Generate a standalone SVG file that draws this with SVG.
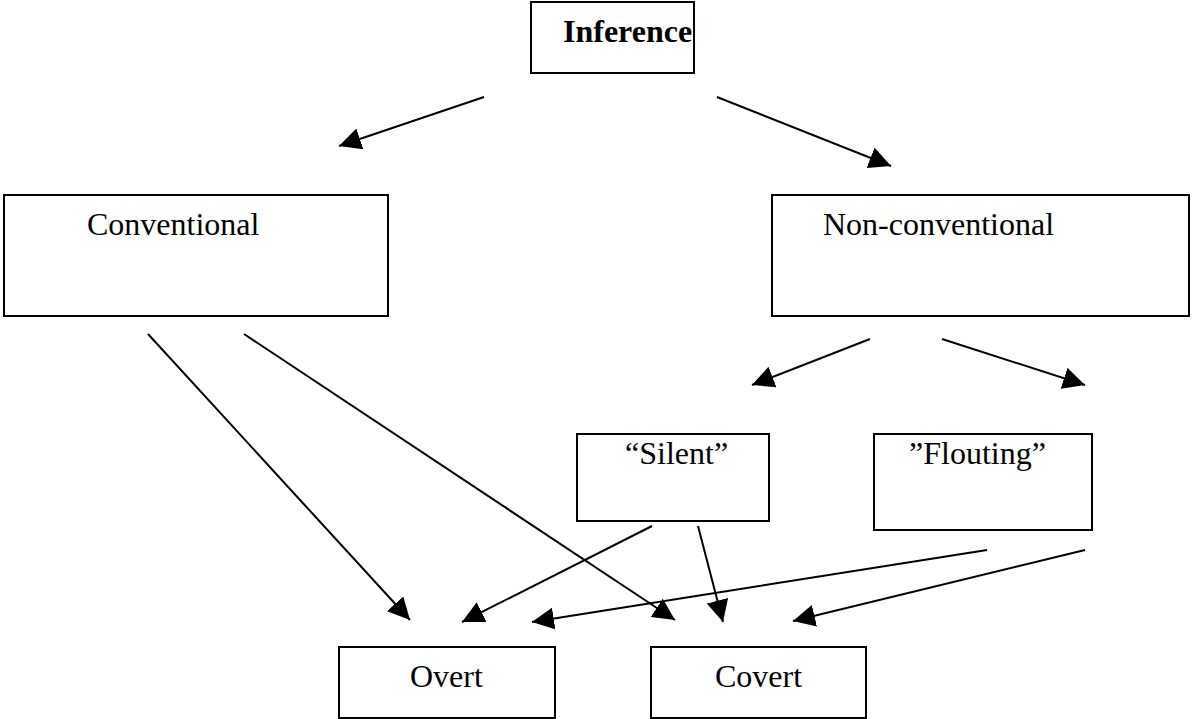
<svg xmlns="http://www.w3.org/2000/svg" width="1204" height="719" viewBox="0 0 1204 719">
<style>
.box{fill:#fff;stroke:#000;stroke-width:2}
.t{font-family:"Liberation Serif","Times New Roman",serif;font-size:32px;fill:#000}
.b{font-weight:bold}
.c line{stroke:#000;stroke-width:2;marker-end:url(#ah)}
</style>
<defs>
<marker id="ah" markerUnits="userSpaceOnUse" markerWidth="24" markerHeight="22" refX="22" refY="11" orient="auto" viewBox="0 0 24 22">
<path d="M0,0 L22,11 L0,22 Z" fill="#000"/>
</marker>
</defs>
<rect width="1204" height="719" fill="#fff"/>
<g id="n-inference"><rect class="box" x="531" y="2" width="163" height="71"/><text class="t b" x="563" y="42">Inference</text></g>
<g id="n-conventional"><rect class="box" x="4" y="195" width="384" height="121"/><text class="t" x="87" y="235">Conventional</text></g>
<g id="n-nonconventional"><rect class="box" x="772" y="195" width="417" height="121"/><text class="t" x="823" y="235">Non-conventional</text></g>
<g id="n-silent"><rect class="box" x="577" y="434" width="192" height="87"/><text class="t" x="625" y="464">“Silent”</text></g>
<g id="n-flouting"><rect class="box" x="874" y="434" width="218" height="96"/><text class="t" x="909" y="464">”Flouting”</text></g>
<g id="n-overt"><rect class="box" x="339" y="647" width="216" height="71"/><text class="t" x="410" y="687">Overt</text></g>
<g id="n-covert"><rect class="box" x="651" y="647" width="215" height="71"/><text class="t" x="715" y="687">Covert</text></g>
<g class="c" id="connectors">
<line x1="484" y1="97" x2="339" y2="146"/>
<line x1="717" y1="97" x2="891" y2="166"/>
<line x1="870" y1="339" x2="752" y2="385"/>
<line x1="942" y1="339" x2="1085" y2="385"/>
<line x1="148" y1="334" x2="410" y2="620"/>
<line x1="244" y1="334" x2="675" y2="620"/>
<line x1="652" y1="526" x2="462" y2="622"/>
<line x1="698" y1="526" x2="723" y2="622"/>
<line x1="987" y1="550" x2="532" y2="622"/>
<line x1="1085" y1="550" x2="793" y2="621"/>
</g>
</svg>
